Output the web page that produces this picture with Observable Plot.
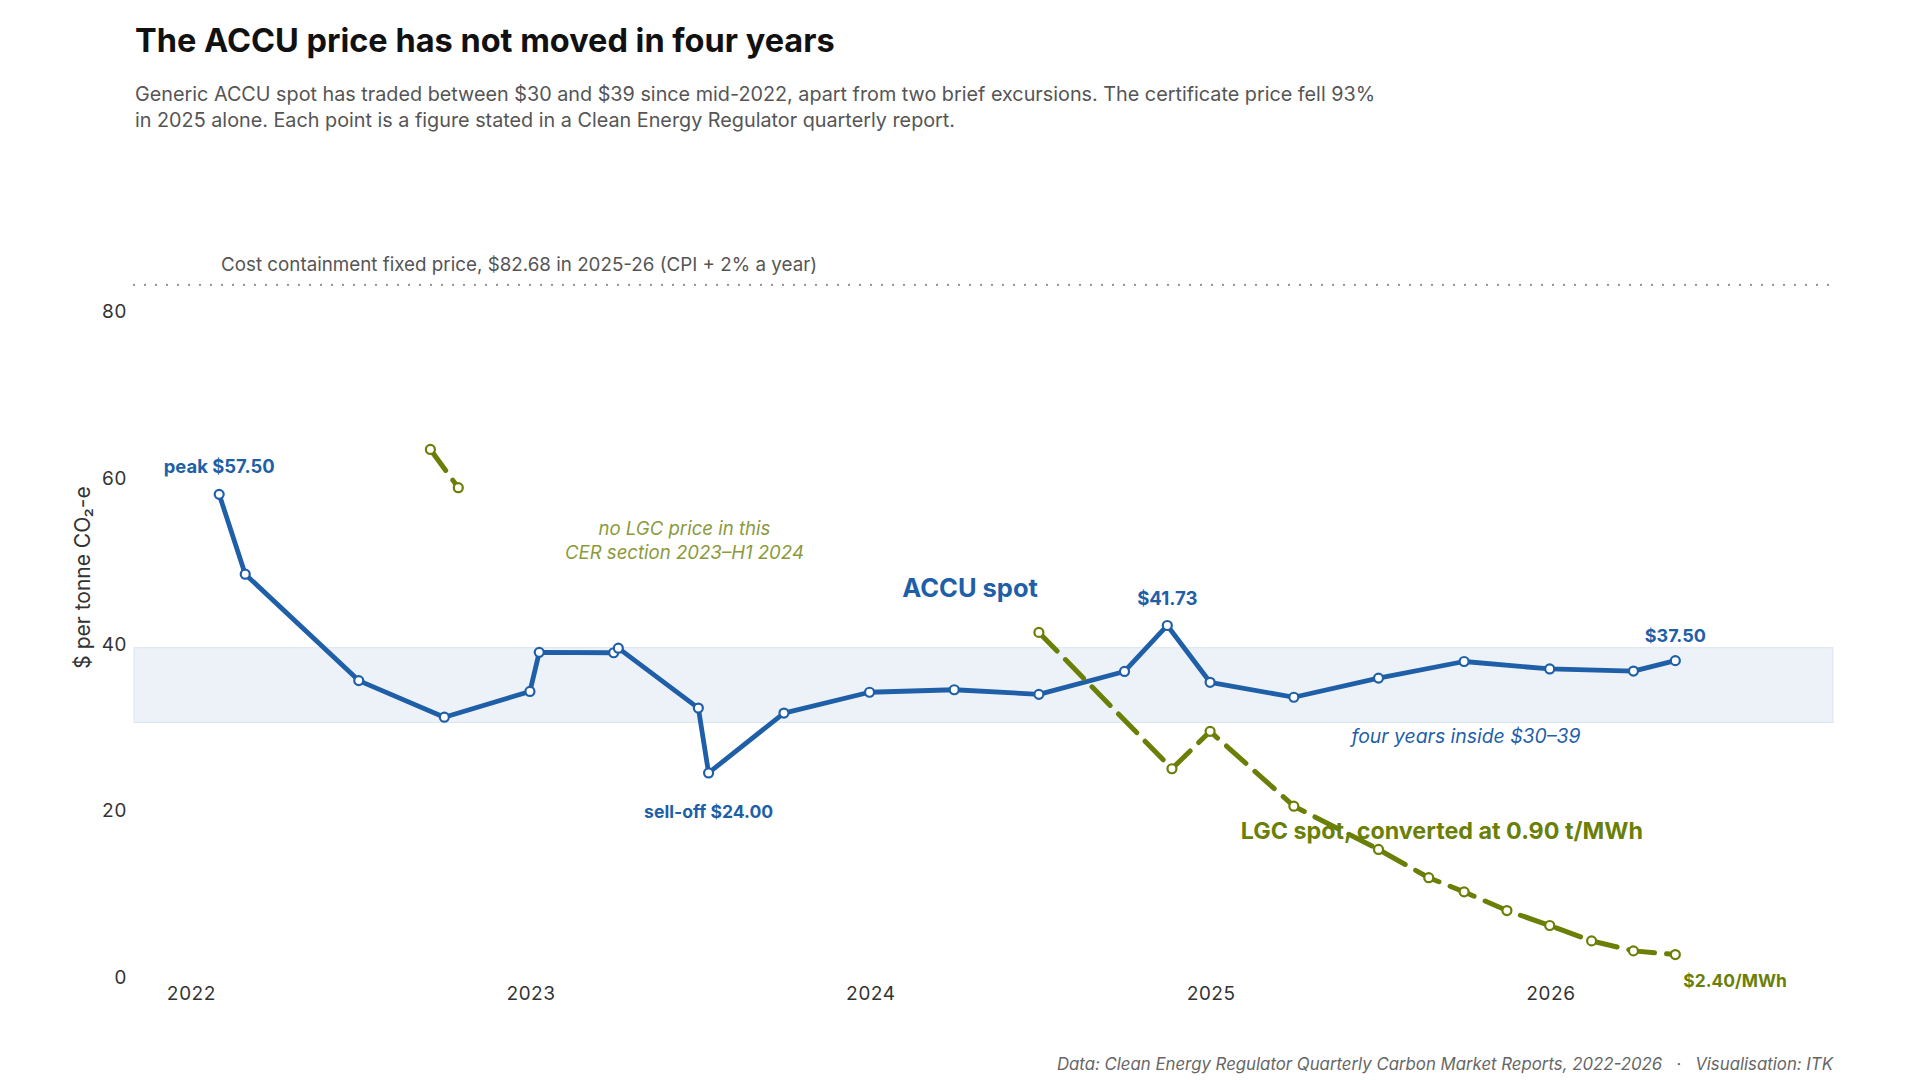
<!DOCTYPE html>
<html>
<head>
<meta charset="utf-8">
<script src="https://cdn.jsdelivr.net/npm/d3@7"></script>
<script src="https://cdn.jsdelivr.net/npm/@observablehq/plot@0.6"></script>
<style>
  html, body { margin: 0; padding: 0; background: #fff; }
  body { width: 1920px; height: 1080px; position: relative; font-family: Inter, "Liberation Sans", sans-serif; overflow: hidden; }
  #title { position: absolute; left: 135px; top: 25px; font-size: 32.5px; line-height: 32.5px; font-weight: 700; color: #111; white-space: nowrap; }
  #subtitle { position: absolute; left: 135px; top: 82px; font-size: 19.8px; line-height: 25.7px; color: #555; width: 1500px; }
  #chart { position: absolute; left: 0; top: 140px; }
  #caption { position: absolute; right: 87px; top: 1056px; font-size: 16.8px; line-height: 16.8px; font-style: italic; color: #666; white-space: nowrap; }
</style>
</head>
<body>
<div id="title">The ACCU price has not moved in four years</div>
<div id="subtitle">Generic ACCU spot has traded between $30 and $39 since mid-2022, apart from two brief excursions. The certificate price fell 93%<br>in 2025 alone. Each point is a figure stated in a Clean Energy Regulator quarterly report.</div>
<div id="chart"></div>
<div id="caption">Data: Clean Energy Regulator Quarterly Carbon Market Reports, 2022-2026 &nbsp;&nbsp;·&nbsp;&nbsp; Visualisation: ITK</div>
<script>
// ---- data ----
const accuDates = ["2022-01-31","2022-02-28","2022-06-30","2022-09-30","2022-12-31","2023-01-10","2023-03-31","2023-04-05","2023-06-30","2023-07-11","2023-09-30","2023-12-31","2024-03-31","2024-06-30","2024-09-30","2024-11-15","2024-12-31","2025-03-31","2025-06-30","2025-09-30","2025-12-31","2026-03-31","2026-05-15"];
const accuValues = [57.50, 47.9, 35.1, 30.7, 33.8, 38.5, 38.45, 39.0, 31.8, 24.00, 31.2, 33.7, 34.0, 33.45, 36.2, 41.73, 34.9, 33.1, 35.4, 37.4, 36.5, 36.25, 37.50];

// LGC spot converted to $/t CO2-e (null = no LGC price in that CER section)
const lgcDates = ["2022-09-15","2022-10-15","2023-12-31","2024-06-30","2024-11-20","2024-12-31","2025-03-31","2025-06-30","2025-08-23","2025-09-30","2025-11-15","2025-12-31","2026-02-14","2026-03-31","2026-05-15"];
const lgcValues = [62.9, 58.3, null, 40.9, 24.5, 29.0, 20.0, 14.8, 11.4, 9.7, 7.45, 5.65, 3.8, 2.6, 2.16];

const bandLow = 30;
const bandHigh = 39;
const ceilingPrice = 82.68;
const yTickValues = [0, 20, 40, 60, 80];
const xTickYears = ["2022", "2023", "2024", "2025", "2026"];
const xDomain = ["2021-11-01", "2026-11-01"];

// ---- styling ----
const BLUE = "#1f5fa8";
const GREEN = "#6a7f06";
const OLIVE = "#8b9a3c";

const accu = accuDates.map((d, i) => ({date: new Date(d), value: accuValues[i]}));
const lgc = lgcDates.map((d, i) => ({date: new Date(d), value: lgcValues[i]}));
const lgcPts = lgc.filter(d => d.value != null);
const band = [{lo: bandLow, hi: bandHigh}];
const accuLast = accu[accu.length - 1];
const lgcLast = lgcPts[lgcPts.length - 1];
const byValue = (arr, v) => arr.filter(d => d.value === v);

const plot = Plot.plot({
  width: 1920,
  height: 892,
  marginLeft: 134,
  marginRight: 87,
  marginTop: 42,
  marginBottom: 60,
  style: {fontFamily: "Inter, 'Liberation Sans', sans-serif", fontSize: "19px", color: "#333", background: "transparent"},
  x: {type: "utc", domain: xDomain.map(d => new Date(d))},
  y: {domain: [0, 95]},
  marks: [
    Plot.rect(band, {y1: "lo", y2: "hi", fill: "#edf2f8", stroke: "#dbe5f1", strokeWidth: 1}),
    Plot.ruleY([ceilingPrice], {stroke: "#8c8c8c", strokeWidth: 2.2, strokeDasharray: "0,11", strokeLinecap: "round"}),
    Plot.text([ceilingPrice], {x: () => new Date("2022-02-02"), y: d => d, dy: -20, text: () => "Cost containment fixed price, $82.68 in 2025-26 (CPI + 2% a year)", textAnchor: "start", fill: "#555", fontSize: 18.8}),
    Plot.text(["no LGC price in this\nCER section 2023\u2013H1 2024"], {x: () => new Date("2023-06-15"), y: () => 52.06, text: d => d, fill: OLIVE, fontStyle: "italic", fontSize: 18.6, lineHeight: 1.25}),
    Plot.text(["four years inside $30\u201339"], {x: () => new Date("2025-10-02"), y: () => 28.35, text: d => d, fill: BLUE, fontStyle: "italic", fontSize: 19.4}),
    Plot.text(["ACCU spot"], {x: () => new Date("2024-04-17"), y: () => 46.15, text: d => d, fill: BLUE, fontWeight: 700, fontSize: 25.5}),
    Plot.text(["LGC spot, converted at 0.90 t/MWh"], {x: () => new Date("2025-02-02"), y: () => 16.93, text: d => d, textAnchor: "start", fill: GREEN, fontWeight: 700, fontSize: 23.3}),
    Plot.lineY(accu, {x: "date", y: "value", stroke: BLUE, strokeWidth: 4.8, strokeLinejoin: "round"}),
    Plot.lineY(lgc, {x: "date", y: "value", stroke: GREEN, strokeWidth: 5, strokeDasharray: "26,12"}),
    Plot.dot(accu, {x: "date", y: "value", r: 4.5, fill: "white", stroke: BLUE, strokeWidth: 2.2}),
    Plot.dot(lgcPts, {x: "date", y: "value", r: 4.5, fill: "white", stroke: GREEN, strokeWidth: 2.2}),
    Plot.text(byValue(accu, 57.50), {x: "date", y: "value", text: d => `peak $${d.value.toFixed(2)}`, dy: -27, fill: BLUE, fontWeight: 700, fontSize: 18.4}),
    Plot.text(byValue(accu, 24.00), {x: "date", y: "value", text: d => `sell-off $${d.value.toFixed(2)}`, dy: 39, fill: BLUE, fontWeight: 700, fontSize: 17.6}),
    Plot.text(byValue(accu, 41.73), {x: "date", y: "value", text: d => `$${d.value.toFixed(2)}`, dy: -26, fill: BLUE, fontWeight: 700, fontSize: 18.6}),
    Plot.text([accuLast], {x: "date", y: "value", text: d => `$${d.value.toFixed(2)}`, dy: -24, fill: BLUE, fontWeight: 700, fontSize: 18}),
    Plot.text([lgcLast], {x: "date", y: "value", text: () => "$2.40/MWh", dx: 8, dy: 27, textAnchor: "start", fill: GREEN, fontWeight: 700, fontSize: 17.4}),
    Plot.axisY({ticks: yTickValues, tickSize: 0, tickPadding: 8, dy: 5, label: null, fill: "#333", fontSize: 19}),
    Plot.axisX({ticks: xTickYears.map(y => new Date(y + "-01-01")), tickFormat: d3.utcFormat("%Y"), tickSize: 0, tickPadding: 14, label: null, fill: "#333", fontSize: 19}),
    Plot.text(["$ per tonne CO\u2082-e"], {frameAnchor: "left", textAnchor: "middle", dx: -51, rotate: -90, text: d => d, fill: "#333", fontSize: 21})
  ]
});
document.getElementById("chart").appendChild(plot);
</script>
</body>
</html>
